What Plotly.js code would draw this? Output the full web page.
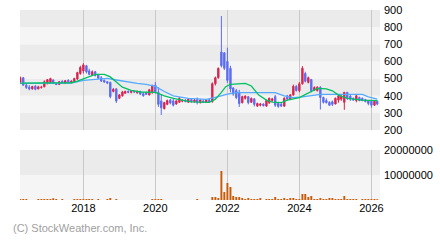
<!DOCTYPE html>
<html><head><meta charset="utf-8">
<script src="https://cdn.plot.ly/plotly-3.0.1.min.js"></script>
<style>html,body{margin:0;padding:0;background:#fff}#c{width:440px;height:240px}</style>
</head><body><div id="c"></div>
<script>
// Monthly candles, Apr 2016 .. Mar 2026
const startYear = 2016, startMonth = 4;
const opens = [
480,505,462,450,440,456,440,448,452,472,
478,492,470,466,485,472,490,476,482,498,
530,545,575,545,520,540,522,505,490,482,
478,425,440,385,400,415,425,420,424,418,
426,412,418,405,418,462,420,370,325,350,
375,370,352,362,368,375,362,378,365,380,
360,370,362,375,365,470,505,655,650,600,
560,445,430,420,360,385,395,362,382,340,
345,352,340,360,372,395,355,350,340,400,
378,405,455,430,470,530,478,495,432,430,
450,390,372,362,365,352,375,380,362,420,
398,385,372,390,385,378,372,368,345,368];
const highs = [
512,510,472,462,458,462,458,458,490,498,
505,496,478,486,490,492,496,490,505,540,
575,590,580,558,548,545,527,515,495,486,
482,445,445,410,428,430,432,430,432,430,
428,422,422,440,465,480,450,405,365,378,
382,388,375,392,378,380,385,385,382,390,
380,378,380,382,478,512,565,865,655,680,
575,450,440,435,400,402,398,390,386,360,
358,356,378,390,388,405,362,358,392,405,
410,465,462,480,573,540,512,498,455,455,
455,395,385,368,372,390,405,402,422,422,
405,390,405,395,390,382,375,370,375,372];
const lows = [
470,458,440,432,436,432,438,442,450,466,
470,468,462,464,470,468,472,474,478,492,
522,530,530,520,515,512,498,480,475,468,
385,420,358,380,395,412,415,414,418,412,
404,395,405,402,412,412,335,288,320,345,
350,338,348,358,362,362,358,360,360,350,
355,358,358,362,360,460,500,565,550,475,
420,400,380,335,355,378,350,358,338,335,
338,338,335,352,365,335,330,335,335,372,
375,400,425,420,465,478,472,420,430,425,
320,355,355,340,340,350,360,370,318,375,
370,370,362,368,368,362,345,330,342,345];
const closes = [
505,462,448,440,454,438,452,450,482,494,
500,472,466,482,474,488,476,486,500,535,
565,580,540,525,540,518,502,486,480,474,
395,438,370,405,422,425,420,426,422,426,
410,400,408,435,460,420,350,330,360,372,
358,345,370,385,375,366,380,365,375,360,
375,362,375,365,470,505,560,575,560,490,
440,410,390,355,395,398,360,385,350,355,
352,342,372,385,382,345,338,340,385,380,
405,455,430,470,560,485,505,430,448,450,
390,362,360,345,350,385,400,398,420,385,
380,375,400,372,372,366,355,345,368,352];
const volumes = [
400000,400000,400000,0,0,0,400000,400000,400000,400000,
400000,700000,400000,0,400000,0,0,0,400000,400000,
400000,400000,400000,400000,400000,0,400000,0,0,400000,
800000,0,400000,0,0,0,0,0,0,0,
0,0,0,0,400000,400000,400000,400000,0,0,
0,0,0,0,0,0,0,0,0,400000,
0,0,0,0,1200000,1200000,800000,11600000,3200000,6800000,
5200000,1600000,1200000,1200000,800000,400000,800000,400000,400000,400000,
800000,0,400000,400000,400000,1200000,400000,400000,800000,400000,
800000,800000,400000,400000,2400000,2400000,1200000,1600000,400000,400000,
800000,400000,400000,800000,800000,400000,400000,400000,1600000,400000,
400000,400000,400000,0,400000,400000,400000,400000,400000,300000];

const maShortDates = ['2016-04-01','2017-06-01','2017-09-01','2017-11-01','2018-01-01','2018-03-01','2018-05-01','2018-08-01','2018-10-01','2018-12-01','2019-02-01','2019-05-01','2019-08-01','2020-01-01','2020-04-01','2020-07-01','2020-10-01','2021-01-01','2021-07-01','2021-09-01','2021-11-01','2021-12-15','2022-02-01','2022-07-01','2022-09-01','2022-11-15','2023-02-01','2023-04-01','2023-07-01','2023-09-01','2024-01-01','2024-04-01','2024-07-01','2024-10-01','2024-12-01','2025-02-01','2025-05-01','2025-10-01','2026-03-01'];
const maShort = [474,474,476,485,497,510,525,525,510,480,450,432,422,420,400,385,375,365,362,380,420,453,467,472,457,404,375,363,360,375,389,414,443,440,429,404,385,375,372];
const maLongDates = ['2016-04-01','2017-06-01','2017-09-01','2018-01-01','2018-06-01','2018-09-01','2018-12-01','2019-03-01','2019-07-01','2019-10-01','2020-01-01','2020-04-01','2020-07-01','2020-12-01','2021-06-01','2021-10-01','2022-01-01','2022-04-01','2023-05-01','2023-08-01','2023-11-01','2024-02-01','2024-05-01','2024-08-01','2025-10-01','2025-12-01','2026-03-01'];
const maLong = [472,472,474,490,497,501,492,482,472,467,455,425,400,385,379,395,410,418,418,400,389,394,402,408,408,394,381];

const priceTicks = [200,300,400,500,600,700,800,900];
const volTicks = [10000000,20000000];
const volTickText = ['10000000','20000000'];

const dates = [];
for (let i = 0; i < closes.length; i++) {
  const m = startMonth - 1 + i;
  const y = startYear + Math.floor(m / 12);
  const mm = (m % 12) + 1;
  dates.push(y + '-' + String(mm).padStart(2, '0') + '-01');
}

const UP = '#d8254e', DOWN = '#5b6df0';
const traces = [
  {type:'candlestick', x:dates, open:opens, high:highs, low:lows, close:closes,
   xaxis:'x', yaxis:'y', whiskerwidth:0,
   increasing:{line:{color:UP,width:1}, fillcolor:UP},
   decreasing:{line:{color:DOWN,width:1}, fillcolor:DOWN},
   hoverinfo:'skip', showlegend:false},
  {type:'scatter', mode:'lines', x:maLongDates, y:maLong, xaxis:'x', yaxis:'y',
   line:{color:'#55aaff', width:1.3}, showlegend:false, hoverinfo:'skip'},
  {type:'scatter', mode:'lines', x:maShortDates, y:maShort, xaxis:'x', yaxis:'y',
   line:{color:'#00c060', width:1.3}, showlegend:false, hoverinfo:'skip'},
  {type:'bar', x:dates, y:volumes, xaxis:'x2', yaxis:'y2',
   marker:{color:'#c85a08', line:{width:0}}, showlegend:false, hoverinfo:'skip'}
];

const bands = [];
for (let i = 0; i < priceTicks.length - 1; i++) {
  bands.push({type:'rect', xref:'paper', yref:'y', x0:0, x1:1,
    y0:priceTicks[i], y1:priceTicks[i+1], line:{width:0},
    fillcolor: (i % 2 === 0) ? '#ebebeb' : '#f5f5f5', layer:'below'});
}
bands.push({type:'rect', xref:'paper', yref:'y2', x0:0, x1:1, y0:0, y1:volTicks[0], line:{width:0}, fillcolor:'#f5f5f5', layer:'below'});
bands.push({type:'rect', xref:'paper', yref:'y2', x0:0, x1:1, y0:volTicks[0], y1:volTicks[1], line:{width:0}, fillcolor:'#ebebeb', layer:'below'});

const font = {family:'Liberation Sans, Arial, sans-serif', size:11, color:'#000'};
const xr = ['2016-03-29','2026-03-29'];
const layout = {
  width:440, height:240,
  margin:{l:20, r:60, t:10, b:40},
  paper_bgcolor:'#fff', plot_bgcolor:'rgba(0,0,0,0)',
  font:font, bargap:0.3, showlegend:false,
  xaxis:{domain:[0,1], anchor:'y', range:xr, type:'date', showticklabels:false,
    showgrid:true, gridcolor:'#c8c8c8', gridwidth:1.5, tick0:'2018-01-01', dtick:'M24',
    ticks:'', zeroline:false, showline:false, rangeslider:{visible:false}, fixedrange:true},
  xaxis2:{domain:[0,1], anchor:'y2', matches:'x', range:xr, type:'date', showticklabels:true,
    tickformat:'%Y', showgrid:true, gridcolor:'#c8c8c8', gridwidth:1.5, tick0:'2018-01-01', dtick:'M24',
    ticks:'', zeroline:false, showline:false, tickfont:font, rangeslider:{visible:false}},
  yaxis:{domain:[0.368,1], anchor:'x', side:'right', range:[200,900], tickvals:priceTicks,
    showgrid:false, zeroline:false, showline:false, ticks:'', tickfont:font, ticklabelstandoff:3},
  yaxis2:{domain:[0,0.263], anchor:'x2', side:'right', range:[0,20000000], tickvals:volTicks,
    ticktext:volTickText, showgrid:false, zeroline:false, showline:false, ticks:'', tickfont:font, ticklabelstandoff:3},
  shapes:bands,
  annotations:[{xref:'paper', yref:'paper', x:-0.025, y:-0.147, xanchor:'left', yanchor:'middle',
    text:'(C) StockWeather.com, Inc.', showarrow:false,
    font:{family:'Liberation Sans, Arial, sans-serif', size:11, color:'#a0a0a0'}}]
};
Plotly.newPlot('c', traces, layout, {staticPlot:true, displayModeBar:false});
</script></body></html>
